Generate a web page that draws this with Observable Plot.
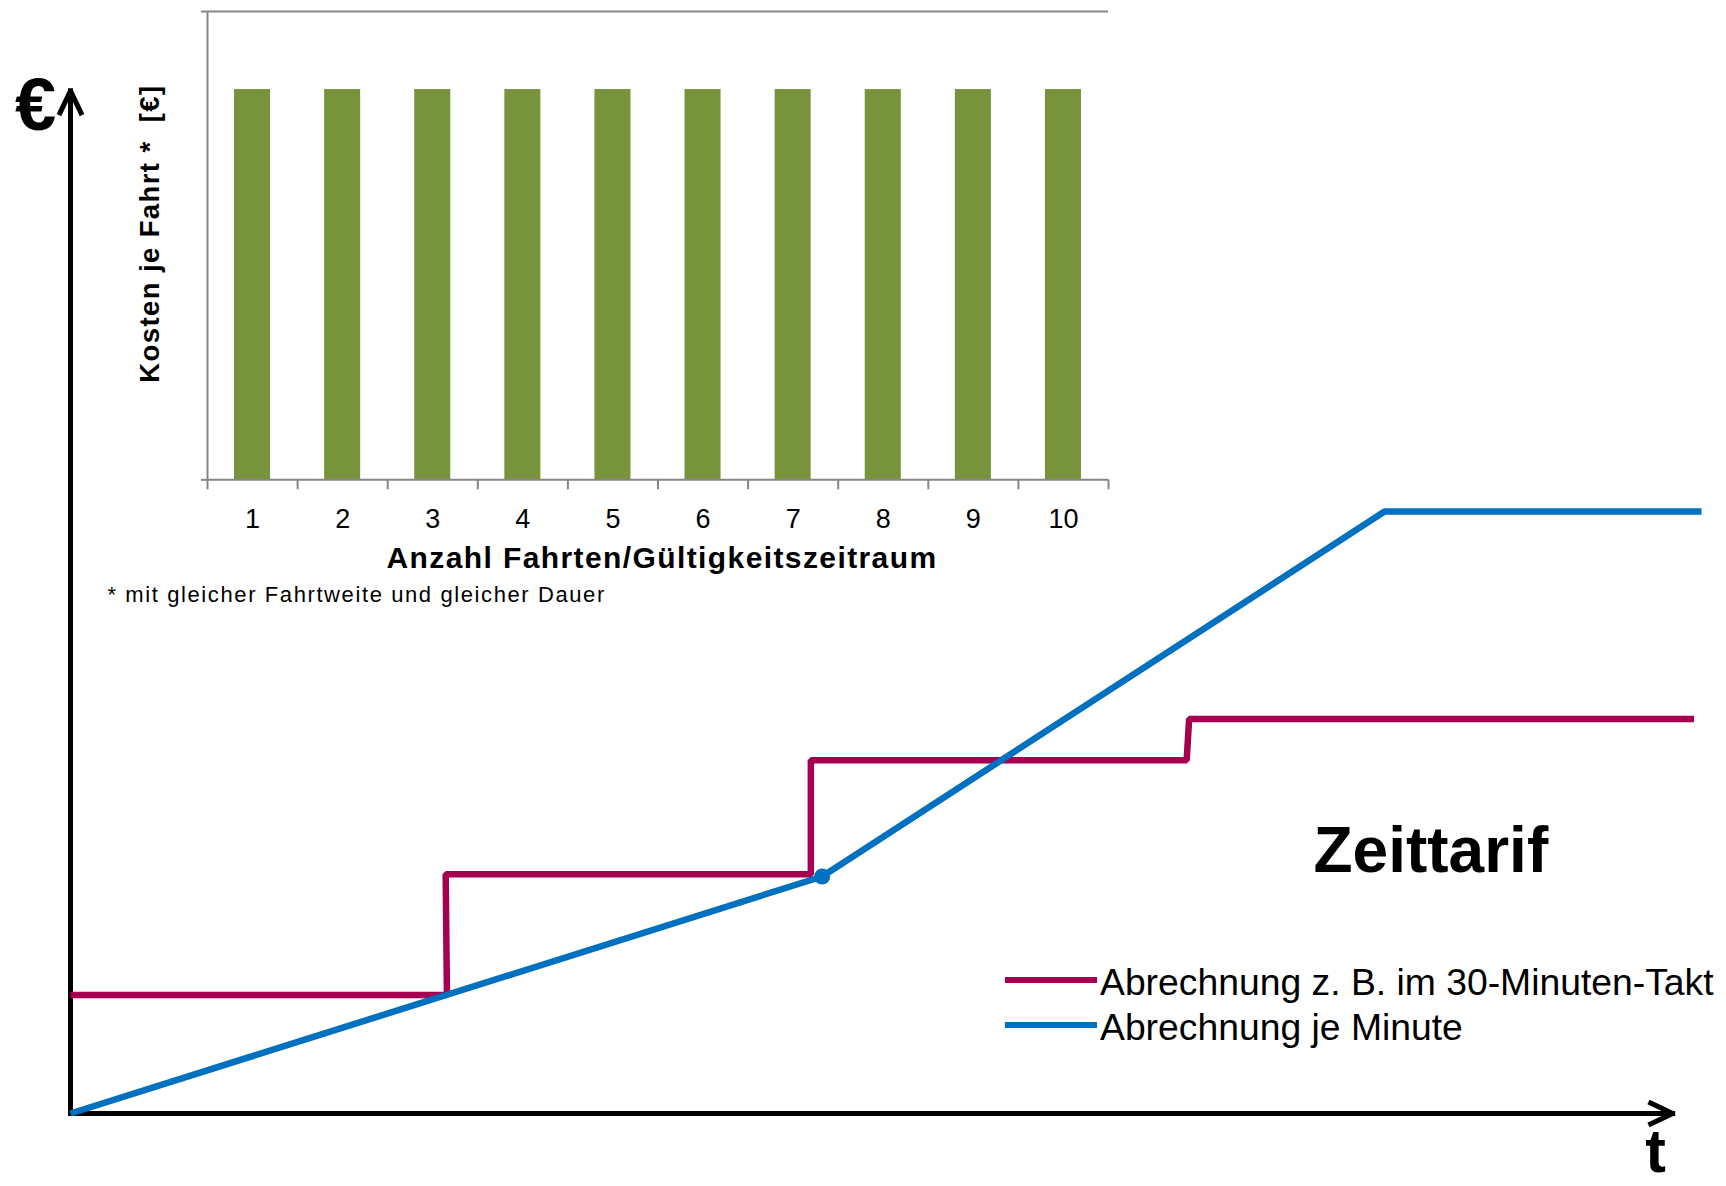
<!DOCTYPE html>
<html>
<head>
<meta charset="utf-8">
<script src="https://cdn.jsdelivr.net/npm/d3@7"></script>
<script src="https://cdn.jsdelivr.net/npm/@observablehq/plot@0.6"></script>
<style>
  html, body { margin: 0; padding: 0; background: #fff; overflow: hidden; }
  #wrap { position: relative; width: 1726px; height: 1186px; font-family: "Liberation Sans", Arial, sans-serif; }
  #wrap svg { position: absolute; left: 0; top: 0; }
  g[aria-description="spaced"] text { letter-spacing: 1.4px; }
  g[aria-description="spaced-note"] text { letter-spacing: 1.6px; }
  g[aria-description="spaced-y"] text { letter-spacing: 1.4px; }
  .lg-swatch { position: absolute; height: 6.5px; width: 92px; }
  .lg-text { position: absolute; font-size: 37.3px; line-height: 37px; white-space: nowrap; color: #000; }
</style>
</head>
<body>
<div id="wrap"></div>
<script>
const FONT = "Liberation Sans, Arial, sans-serif";

// ---------- Inset chart data ----------
const rideCounts = [1, 2, 3, 4, 5, 6, 7, 8, 9, 10];
const costPerRide = [1, 1, 1, 1, 1, 1, 1, 1, 1, 1];
const insetYMax = 1.2;
const insetYTicks = [0, 1.2];
const insetCategoryBoundaries = [0.5, 1.5, 2.5, 3.5, 4.5, 5.5, 6.5, 7.5, 8.5, 9.5, 10.5];
const insetYLabel = "Kosten je Fahrt *  [€]";
const insetXLabel = "Anzahl Fahrten/Gültigkeitszeitraum";
const insetNote = "* mit gleicher Fahrtweite und gleicher Dauer";

// ---------- Main chart data ----------
const taktMinutes = [0, 30.05, 29.95, 59.1, 59.1, 89.1, 89.3, 129.6];
const taktCost    = [1.0, 1.0, 2.02, 2.02, 2.98, 2.98, 3.33, 3.33];
const minuteMinutes = [0, 60, 104.9, 130.2];
const minuteCost    = [0, 2.0, 5.08, 5.08];
const kinkMinutes = [60];
const kinkCost = [2.0];
const seriesNames = ["Abrechnung z. B. im 30-Minuten-Takt", "Abrechnung je Minute"];
const seriesColors = ["#A50050", "#0070C0"];
const axisEndMinutes = 127.9;
const axisEndCost = 8.63;
const titleText = "Zeittarif";
const costAxisLabel = "€";
const timeAxisLabel = "t";

const GREEN = "#77933C";
const GRAY = "#868686";

// tables built from the arrays
const bars = rideCounts.map((n, i) => ({n, v: costPerRide[i]}));
const takt = taktMinutes.map((t, i) => ({t, c: taktCost[i]}));
const minute = minuteMinutes.map((t, i) => ({t, c: minuteCost[i]}));
const kink = kinkMinutes.map((t, i) => ({t, c: kinkCost[i]}));
const axes = [
  {x1: 0, y1: 0, x2: axisEndMinutes, y2: 0},
  {x1: 0, y1: 0, x2: 0, y2: axisEndCost}
];

const wrap = document.getElementById("wrap");

// ---------- Main plot ----------
const main = Plot.plot({
  width: 1726,
  height: 1186,
  margin: 0,
  x: {domain: [0, 130], range: [70, 1698.5], axis: null},
  y: {domain: [0, 9], range: [1113, 46.5], axis: null},
  style: {fontFamily: FONT, background: "white", color: "black"},
  marks: [
    Plot.arrow(axes, {x1: "x1", y1: "y1", x2: "x2", y2: "y2", stroke: "black", strokeWidth: 5, headLength: 7.3, headAngle: 51, strokeLinecap: "square", strokeLinejoin: "miter"}),
    Plot.line(takt, {x: "t", y: "c", stroke: seriesColors[0], strokeWidth: 6.5, strokeLinejoin: "miter", strokeLinecap: "butt"}),
    Plot.line(minute, {x: "t", y: "c", stroke: seriesColors[1], strokeWidth: 6.5, strokeLinejoin: "miter", strokeLinecap: "butt"}),
    Plot.dot(kink, {x: "t", y: "c", r: 8, fill: seriesColors[1]}),
    Plot.text([titleText], {text: d => d, frameAnchor: "top-left", dx: 1313, dy: 871, textAnchor: "start", lineAnchor: "bottom", fontSize: 64, fontWeight: "bold"}),
    Plot.text([costAxisLabel], {text: d => d, frameAnchor: "top-left", dx: 35, dy: 129, textAnchor: "middle", lineAnchor: "bottom", fontSize: 74, fontWeight: "bold"}),
    Plot.text([timeAxisLabel], {text: d => d, frameAnchor: "top-left", dx: 1655, dy: 1171, textAnchor: "middle", lineAnchor: "bottom", fontSize: 62, fontWeight: "bold"})
  ]
});
wrap.appendChild(main);

// ---------- Inset plot ----------
const inset = Plot.plot({
  width: 1110,
  height: 620,
  marginLeft: 207,
  marginRight: 2,
  marginTop: 11,
  marginBottom: 140.7,
  x: {domain: [0.5, 10.5]},
  y: {domain: [0, insetYMax]},
  style: {fontFamily: FONT, background: "transparent", color: "black"},
  marks: [
    Plot.rectY(bars, {x1: d => d.n - 0.2, x2: d => d.n + 0.2, y1: 0, y2: "v", fill: GREEN}),
    Plot.ruleY([insetYMax], {stroke: GRAY, strokeWidth: 2}),
    Plot.ruleY([0], {stroke: GRAY, strokeWidth: 2}),
    Plot.ruleX([0.5], {stroke: GRAY, strokeWidth: 2}),
    Plot.axisY({ticks: insetYTicks, tickSize: 6, tickFormat: () => "", stroke: GRAY, strokeWidth: 2, label: null}),
    Plot.axisX({ticks: insetCategoryBoundaries, tickSize: 10, tickFormat: () => "", stroke: GRAY, strokeWidth: 2, label: null}),
    Plot.text(rideCounts, {x: d => d, y: () => 0, text: d => String(d), dy: 48.4, lineAnchor: "bottom", fontSize: 27}),
    Plot.text([insetXLabel], {text: d => d, frameAnchor: "bottom", dx: 4, dy: 88, lineAnchor: "bottom", fontSize: 30, fontWeight: "bold", ariaDescription: "spaced"}),
    Plot.text([insetYLabel], {text: d => d, frameAnchor: "left", dx: -49, dy: -12, rotate: -90, lineAnchor: "bottom", textAnchor: "middle", fontSize: 27.5, fontWeight: "bold", ariaDescription: "spaced-y"}),
    Plot.text([insetNote], {text: d => d, frameAnchor: "bottom-left", dx: -100, dy: 122, textAnchor: "start", lineAnchor: "bottom", fontSize: 22, ariaDescription: "spaced-note"})
  ]
});
wrap.appendChild(inset);

// ---------- Legend (HTML) ----------
const legendTop = 963.5;
const legendStep = 45;
seriesNames.forEach((name, i) => {
  const sw = document.createElement("div");
  sw.className = "lg-swatch";
  sw.style.left = "1005px";
  sw.style.top = (legendTop + 13 + i * legendStep) + "px";
  sw.style.background = seriesColors[i];
  wrap.appendChild(sw);
  const tx = document.createElement("div");
  tx.className = "lg-text";
  tx.style.left = "1100px";
  tx.style.top = (legendTop + i * legendStep) + "px";
  tx.textContent = name;
  wrap.appendChild(tx);
});
</script>
</body>
</html>
